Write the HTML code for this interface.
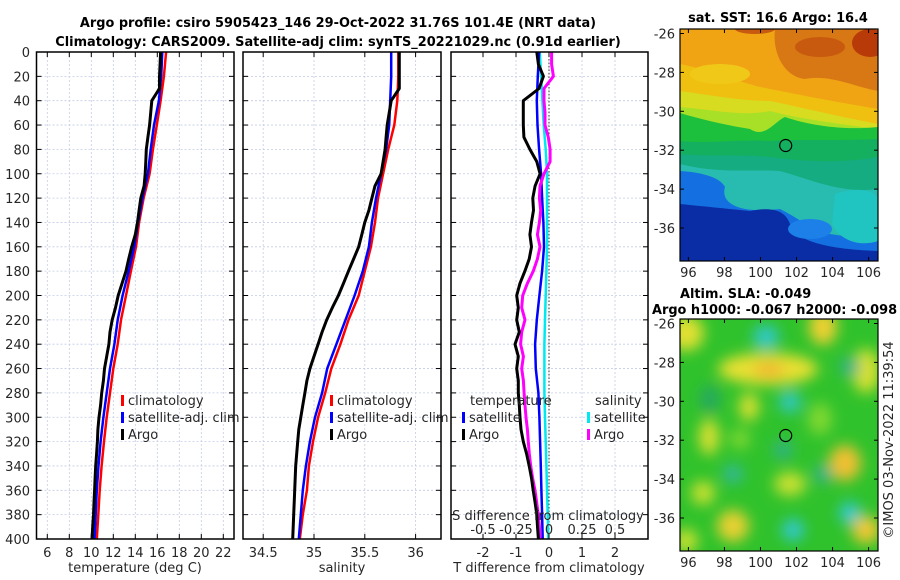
<!DOCTYPE html>
<html><head><meta charset="utf-8"><style>
html,body{margin:0;padding:0;background:#fff;}
svg{display:block;font-family:"DejaVu Sans","Liberation Sans",sans-serif;}
.tl{font-size:13px;fill:#262626;}
.tt{font-size:12.9px;font-weight:bold;fill:#000;}
</style></head><body>
<svg id="c" width="900" height="580" viewBox="0 0 900 580" xmlns="http://www.w3.org/2000/svg">
<defs>
<clipPath id="cp1"><rect x="36.5" y="52" width="197.5" height="487"/></clipPath>
<clipPath id="cp2"><rect x="243" y="52" width="198" height="487"/></clipPath>
<clipPath id="cp3"><rect x="451" y="52" width="197" height="487"/></clipPath>
<clipPath id="cm1"><rect x="0" y="0" width="198" height="232"/></clipPath>
<filter id="bl" x="-20%" y="-20%" width="140%" height="140%"><feGaussianBlur stdDeviation="7"/></filter>
</defs>
<text class="tt" x="338" y="27" text-anchor="middle">Argo profile: csiro 5905423_146 29-Oct-2022 31.76S 101.4E (NRT data)</text>
<text class="tt" x="338" y="46" text-anchor="middle">Climatology: CARS2009. Satellite-adj clim: synTS_20221029.nc (0.91d earlier)</text>
<g id="grid"></g>
<g id="series"></g>
<g id="frames"></g>
<g id="labels"></g>

<!-- Top map: SST -->
<g transform="translate(680,29)">
<g clip-path="url(#cm1)">
<rect width="198" height="232" fill="#f0a414"/>
<path d="M95,0 L198,0 L198,62 C175,58 150,45 125,50 C105,48 92,25 95,0Z" fill="#d87814"/>
<ellipse cx="190" cy="14" rx="18" ry="14" fill="#b83a08"/>
<ellipse cx="140" cy="18" rx="25" ry="10" fill="#c85a10"/>
<ellipse cx="75" cy="0" rx="20" ry="5" fill="#c85a10"/>
<path d="M0,35 C25,40 50,50 80,58 C110,64 150,72 198,80 L198,232 L0,232Z" fill="#f0c010"/>
<ellipse cx="40" cy="45" rx="30" ry="10" fill="#f0c818"/>
<path d="M0,62 C30,66 60,72 90,72 C120,78 160,88 198,95 L198,232 L0,232Z" fill="#d8dc20"/>
<path d="M0,78 C30,80 60,88 90,82 C120,90 160,95 198,100 L198,232 L0,232Z" fill="#a8e028"/>
<path d="M0,84 C20,90 45,96 70,100 C85,110 95,92 105,88 C125,95 160,102 198,98 L198,232 L0,232Z" fill="#1cc03c"/>
<path d="M0,112 C30,115 60,110 90,112 C120,110 160,112 198,110 L198,232 L0,232Z" fill="#14b060"/>
<path d="M0,125 C30,128 60,125 90,128 C120,132 160,135 198,128 L198,232 L0,232Z" fill="#14ac80"/>
<path d="M0,135 C40,145 70,140 100,142 C130,150 160,165 198,160 L198,232 L0,232Z" fill="#28bcb0"/>
<path d="M0,142 C20,143 40,148 45,158 C40,175 60,185 100,180 C120,190 130,200 150,205 L198,212 L198,232 L0,232Z" fill="#1470e0"/>
<path d="M0,175 C30,178 50,180 70,182 C90,178 105,180 110,195 C115,210 140,220 198,222 L198,232 L0,232Z" fill="#0a2ca4"/>
<path d="M155,165 C175,158 195,160 198,170 L198,212 C180,218 160,212 152,195Z" fill="#20c4c0"/>
<ellipse cx="130" cy="200" rx="22" ry="10" fill="#1c80e8"/>
</g>
<rect width="198" height="232" fill="none" stroke="#000" stroke-width="1.2"/>
<circle cx="105.7" cy="116.5" r="6" fill="none" stroke="#000" stroke-width="1.2"/>
</g>
<text class="tt" x="778" y="22" text-anchor="middle">sat. SST: 16.6 Argo: 16.4</text>

<!-- Bottom map: SLA -->
<g transform="translate(680,319)">
<g clip-path="url(#cm1)">
<rect width="198" height="232" fill="#30c22c"/>
<g filter="url(#bl)">
<ellipse cx="6" cy="14" rx="18" ry="18" fill="#e0e030"/>
<ellipse cx="88" cy="50" rx="50" ry="16" fill="#e8e030"/>
<ellipse cx="89" cy="51" rx="16" ry="8" fill="#f0b830"/>
<ellipse cx="143" cy="8" rx="14" ry="18" fill="#f0d030"/>
<ellipse cx="186" cy="52" rx="14" ry="22" fill="#d8e030"/>
<ellipse cx="86" cy="18" rx="13" ry="12" fill="#30c8c8"/>
<ellipse cx="170" cy="48" rx="10" ry="9" fill="#30b090"/>
<ellipse cx="110" cy="83" rx="11" ry="11" fill="#30c8c0"/>
<ellipse cx="69" cy="88" rx="10" ry="14" fill="#d8e030"/>
<ellipse cx="29" cy="118" rx="10" ry="18" fill="#d8e030"/>
<ellipse cx="103" cy="131" rx="9" ry="9" fill="#30b090"/>
<ellipse cx="165" cy="144" rx="16" ry="18" fill="#f0c030"/>
<ellipse cx="53" cy="155" rx="10" ry="9" fill="#30b8a0"/>
<ellipse cx="143" cy="155" rx="9" ry="9" fill="#30b090"/>
<ellipse cx="110" cy="165" rx="16" ry="12" fill="#c8e030"/>
<ellipse cx="23" cy="174" rx="12" ry="12" fill="#c8e030"/>
<ellipse cx="170" cy="194" rx="11" ry="11" fill="#30c8d0"/>
<ellipse cx="53" cy="207" rx="16" ry="16" fill="#e8d030"/>
<ellipse cx="113" cy="211" rx="11" ry="11" fill="#30c8d0"/>
<ellipse cx="186" cy="211" rx="14" ry="14" fill="#f0c830"/>
<ellipse cx="6" cy="222" rx="12" ry="12" fill="#c8e030"/>
<ellipse cx="140" cy="100" rx="12" ry="16" fill="#80d830"/>
<ellipse cx="60" cy="120" rx="10" ry="10" fill="#80d830"/>
<ellipse cx="30" cy="80" rx="10" ry="14" fill="#28a860"/>
</g>
</g>
<rect width="198" height="232" fill="none" stroke="#000" stroke-width="1.2"/>
<circle cx="105.7" cy="116.5" r="6" fill="none" stroke="#000" stroke-width="1.2"/>
</g>
<text class="tt" x="680" y="298">Altim. SLA: -0.049</text>
<text class="tt" x="652" y="314">Argo h1000: -0.067 h2000: -0.098</text>
<text class="tl" transform="translate(893,440) rotate(-90)" text-anchor="middle">©IMOS 03-Nov-2022 11:39:54</text>
<g id="maps-axes"></g>
</svg>
<script>
// ---- data ----
const depth20 = [0,20,40,60,80,100,120,140,160,180,200,220,240,260,280,300,320,340,360,380,400];
const depth10 = [0,10,20,30,40,50,60,70,80,90,100,110,120,130,140,150,160,170,180,190,200,210,220,230,240,250,260,270,280,290,300,310,320,330,340,350,360,370,380,390,400];
const tempClim = [16.8,16.6,16.3,15.95,15.6,15.3,14.75,14.35,14.06,13.6,13.15,12.7,12.4,12.0,11.7,11.4,11.15,10.94,10.76,10.64,10.5];
const tempSat = [16.45,16.35,16.15,15.7,15.4,15.15,14.65,14.25,13.9,13.4,12.85,12.4,12.1,11.7,11.4,11.1,10.85,10.65,10.5,10.4,10.3];
const tempArgo = [16.3,16.25,16.2,16.2,15.5,15.4,15.3,15.15,15.0,14.95,14.9,14.8,14.5,14.35,14.2,14.0,13.67,13.4,13.15,12.8,12.45,12.2,11.9,11.7,11.6,11.4,11.2,11.1,10.95,10.85,10.7,10.6,10.55,10.48,10.4,10.35,10.3,10.25,10.2,10.13,10.06];
const salClim = [35.83,35.83,35.82,35.79,35.73,35.68,35.63,35.60,35.56,35.5,35.44,35.34,35.26,35.17,35.11,35.04,34.99,34.95,34.93,34.89,34.86];
const salSat = [35.76,35.76,35.75,35.74,35.71,35.66,35.61,35.57,35.54,35.48,35.40,35.31,35.22,35.13,35.08,35.01,34.96,34.92,34.89,34.87,34.85];
const salArgo = [35.84,35.84,35.84,35.84,35.76,35.74,35.72,35.71,35.70,35.68,35.66,35.6,35.57,35.54,35.5,35.47,35.44,35.39,35.34,35.29,35.24,35.18,35.125,35.08,35.04,35.0,34.96,34.93,34.91,34.89,34.87,34.85,34.84,34.83,34.82,34.815,34.81,34.805,34.80,34.795,34.79];
const tDiffSat = [-.30,-.34,-.37,-.35,-.30,-.24,-.21,-.17,-.15,-.21,-.29,-.37,-.42,-.40,-.32,-.29,-.27,-.25,-.23,-.21,-.19];
const sDiffSat = [-.07,-.06,-.05,-.04,-.025,-.015,-.015,-.015,-.015,-.02,-.025,-.03,-.035,-.035,-.035,-.03,-.025,-.02,-.015,-.01,-.005];
const tDiffArgo = [-.37,-.32,-.17,-.3,-.78,-.78,-.78,-.76,-.58,-.37,-.27,-.42,-.49,-.47,-.53,-.58,-.53,-.6,-.73,-.88,-.98,-.93,-.98,-.9,-1.03,-.93,-.98,-.93,-.93,-.9,-.88,-.85,-.78,-.68,-.6,-.53,-.48,-.42,-.37,-.35,-.32];
const sDiffArgo = [.02,.02,.033,-.038,-.038,-.03,-.03,-.005,.008,.008,-.038,-.068,-.073,-.063,-.073,-.088,-.068,-.088,-.119,-.164,-.199,-.207,-.182,-.207,-.215,-.194,-.207,-.194,-.189,-.182,-.174,-.164,-.157,-.149,-.139,-.124,-.106,-.093,-.081,-.073,-.068];
const depthTicks = [0,20,40,60,80,100,120,140,160,180,200,220,240,260,280,300,320,340,360,380,400];
const tempTicks = [6,8,10,12,14,16,18,20,22];
const salTicks = [34.5,35,35.5,36];
const tdTicks = [-2,-1,0,1,2];
const sdTicks = [-0.5,-0.25,0,0.25,0.5];
const sdTickLabels = ["-0.5","-0.25","0","0.25","0.5"];
const lonTicks = [96,98,100,102,104,106];
const latTicks = [-26,-28,-30,-32,-34,-36];

// ---- scales ----
const Y0=52, Y1=539;
const yD = d => Y0 + d*(Y1-Y0)/400;
const xT = t => 47.3 + (t-6)*11;
const xS = s => 314 + (s-35)*101.6;
const xTd = t => 549 + t*33;
const xSd = s => 549 + s*132;
const panels = [[36.5,234],[243,441],[451,648]];
const NS="http://www.w3.org/2000/svg";
function mk(tag, attrs, parent){const e=document.createElementNS(NS,tag);for(const k in attrs)e.setAttribute(k,attrs[k]);parent.appendChild(e);return e;}
const G=document.getElementById('grid'), S=document.getElementById('series'), F=document.getElementById('frames'), L=document.getElementById('labels');

const vgrid=[tempTicks.map(xT), salTicks.map(xS), tdTicks.map(xTd)];
panels.forEach((p,i)=>{
  depthTicks.forEach(d=>{
    const ln=mk('line',{x1:p[0],x2:p[1],y1:yD(d),y2:yD(d),stroke:'#c4cce6','stroke-width':0.8,'stroke-dasharray':'2,2'},G);
    
    
    const t1=mk('line',{x1:p[0],x2:p[0]+5,y1:yD(d),y2:yD(d),stroke:'#000','stroke-width':1},F);
    
    
    const t2=mk('line',{x1:p[1]-5,x2:p[1],y1:yD(d),y2:yD(d),stroke:'#000','stroke-width':1},F);
    
    
  });
  vgrid[i].forEach(x=>{
    const ln=mk('line',{x1:x,x2:x,y1:Y0,y2:Y1,stroke:'#c4cce6','stroke-width':0.8,'stroke-dasharray':'2,2'},G);
    
    
    const tk=mk('line',{x1:x,x2:x,y1:Y1-5,y2:Y1,stroke:'#000','stroke-width':1},F);
    
    
    const tk2=mk('line',{x1:x,x2:x,y1:Y0,y2:Y0+5,stroke:'#000','stroke-width':1},F);
    
    
  });
  const fr=mk('rect',{x:p[0],y:Y0,width:p[1]-p[0],height:Y1-Y0,fill:'none',stroke:'#000','stroke-width':1.5},F);
  
  
});
const zl=mk('line',{x1:xTd(0),x2:xTd(0),y1:Y0,y2:Y1,stroke:'#333','stroke-width':1,'stroke-dasharray':'1.5,2'},G);



function line(xs, ds, fx, color, w, clip, name){
  const d = xs.map((v,i)=>(i?'L':'M')+fx(v).toFixed(1)+','+yD(ds[i]).toFixed(1)).join('');
  const p=mk('path',{d:d,fill:'none',stroke:color,'stroke-width':w,'stroke-linejoin':'round','clip-path':'url(#'+clip+')'},S);
  
  
}
line(tempClim,depth20,xT,'#ff0000',2.5,'cp1','temp-climatology-line');
line(tempSat,depth20,xT,'#0000ff',2.5,'cp1','temp-satellite-line');
line(tempArgo,depth10,xT,'#000',3,'cp1','temp-argo-line');
line(salClim,depth20,xS,'#ff0000',2.5,'cp2','sal-climatology-line');
line(salSat,depth20,xS,'#0000ff',2.5,'cp2','sal-satellite-line');
line(salArgo,depth10,xS,'#000',3,'cp2','sal-argo-line');
line(sDiffSat,depth20,xSd,'#00e8f0',2.5,'cp3','sdiff-satellite-line');
line(tDiffSat,depth20,xTd,'#0000ff',2.5,'cp3','tdiff-satellite-line');
line(sDiffArgo,depth10,xSd,'#ff00ff',3,'cp3','sdiff-argo-line');
line(tDiffArgo,depth10,xTd,'#000',3,'cp3','tdiff-argo-line');

function txt(x,y,s,name,anchor,cls){
  const t=mk('text',{x:x,y:y,'text-anchor':anchor||'middle',class:cls||'tl'},L);
  t.textContent=s;
  
  
  return t;
}
depthTicks.forEach(d=>txt(30,yD(d)+5,String(d),'depth-tick-label','end'));
tempTicks.forEach(t=>txt(xT(t),557,String(t),'temp-tick-label'));
salTicks.forEach(s=>txt(xS(s),557,String(s),'sal-tick-label'));
tdTicks.forEach(t=>txt(xTd(t),557,String(t),'tdiff-tick-label'));
sdTicks.forEach((s,i)=>txt(xSd(s),534,sdTickLabels[i],'sdiff-tick-label'));
txt(135,572,'temperature (deg C)','temp-axis-title');
txt(342,572,'salinity','sal-axis-title');
txt(549,572,'T difference from climatology','tdiff-axis-title');
txt(548,520,'S difference from climatology','sdiff-axis-title');

function leg(x,y,color,label,name){
  const r=mk('rect',{x:x,y:y-10,width:3,height:11,fill:color},L);
  
  
  txt(x+7,y,label,name,'start');
}
leg(121,405,'#ff0000','climatology','legend-temp-climatology');
leg(121,422,'#0000ff','satellite-adj. clim','legend-temp-satellite');
leg(121,439,'#000','Argo','legend-temp-argo');
leg(330,405,'#ff0000','climatology','legend-sal-climatology');
leg(330,422,'#0000ff','satellite-adj. clim','legend-sal-satellite');
leg(330,439,'#000','Argo','legend-sal-argo');
txt(470,405,'temperature','legend-temperature-heading','start');
leg(462,422,'#0000ff','satellite','legend-tdiff-satellite');
leg(462,439,'#000','Argo','legend-tdiff-argo');
txt(595,405,'salinity','legend-salinity-heading','start');
leg(587,422,'#00e8f0','satellite','legend-sdiff-satellite');
leg(587,439,'#ff00ff','Argo','legend-sdiff-argo');

const MA=document.getElementById('maps-axes');
const xLon = lon => 688.4 + (lon-96)*18.02;
const yLat = (lat,top) => top + 4.5 + (-26-lat)*19.45;
[29,319].forEach((top,mi)=>{
  lonTicks.forEach(lon=>{
    const tk=mk('line',{x1:xLon(lon),x2:xLon(lon),y1:top+232-4,y2:top+232,stroke:'#000'},MA);
    
    
    const tk2=mk('line',{x1:xLon(lon),x2:xLon(lon),y1:top,y2:top+4,stroke:'#000'},MA);
    
    
    const t=mk('text',{x:xLon(lon),y:top+232+16,'text-anchor':'middle',class:'tl'},MA);
    t.textContent=String(lon);
    
    
  });
  latTicks.forEach(lat=>{
    const y=yLat(lat,top);
    const tk=mk('line',{x1:680,x2:684,y1:y,y2:y,stroke:'#000'},MA);
    
    
    const tk2=mk('line',{x1:874,x2:878,y1:y,y2:y,stroke:'#000'},MA);
    
    
    const t=mk('text',{x:675,y:y+5,'text-anchor':'end',class:'tl'},MA);
    t.textContent=String(lat);
    
    
  });
});
</script>
</body></html>
